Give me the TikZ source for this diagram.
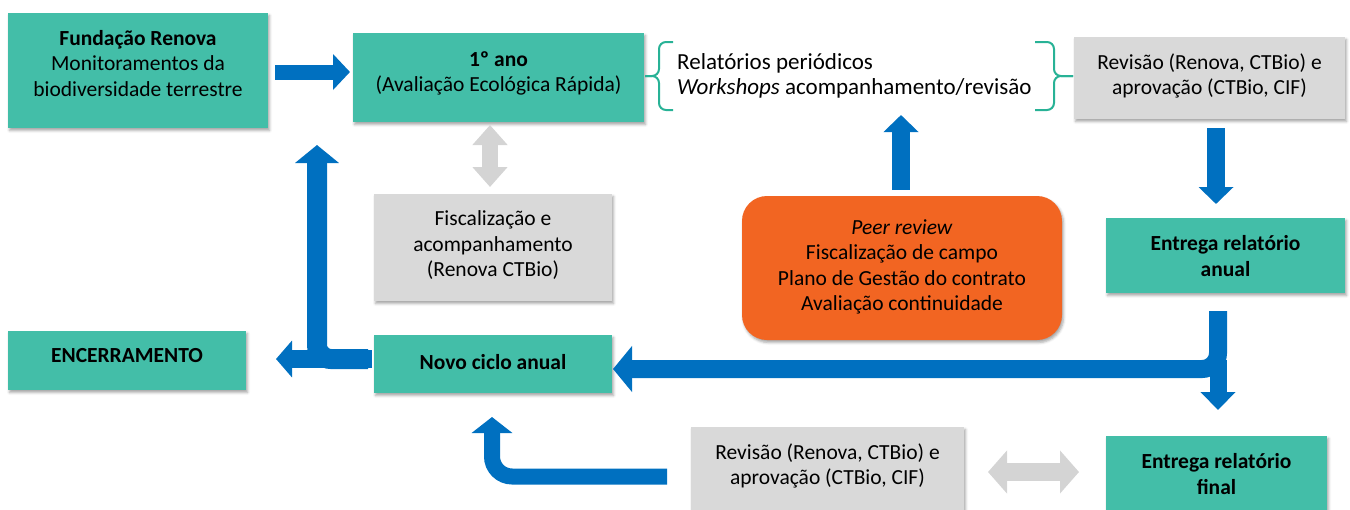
\documentclass[tikz,border=0pt]{standalone}
\usepackage{fontspec}
\setmainfont{Carlito}
\usetikzlibrary{arrows.meta,calc,shadows.blur}
\definecolor{tealc}{RGB}{67,190,168}
\definecolor{grayc}{RGB}{217,217,217}
\definecolor{orangec}{RGB}{242,101,34}
\definecolor{bluec}{RGB}{0,112,192}
\definecolor{bracec}{RGB}{40,178,150}
\definecolor{garrowc}{RGB}{212,212,212}
\begin{document}
\begin{tikzpicture}[x=1pt,y=-1pt,
  box/.style={rectangle, inner sep=0pt, outer sep=0pt,
    blur shadow={shadow xshift=1.5pt, shadow yshift=-2.5pt, shadow blur radius=2.5pt, shadow opacity=35}},
  tbox/.style={box, fill=tealc},
  gbox/.style={box, fill=grayc},
  txt/.style={align=center, inner sep=0pt, font=\fontsize{21.5}{25.5}\selectfont},
  barr/.style args={#1/#2/#3}{draw=bluec, line width=#1, -{Triangle[width=#2,length=#3]}},
  garr/.style args={#1/#2/#3}{draw=garrowc, line width=#1,
    {Triangle[width=#2,length=#3]}-{Triangle[width=#2,length=#3]}},
  brc/.style={draw=bracec, line width=2pt, rounded corners=7pt}
]
\useasboundingbox (0,0) rectangle (1350,509);

% boxes
\node[tbox, minimum width=260pt, minimum height=115pt] (fund) at (138,70.5) {};
\node[tbox, minimum width=291pt, minimum height=89pt] (ano) at (498.5,77.5) {};
\node[gbox, minimum width=271pt, minimum height=82pt] (rev1) at (1209.5,78) {};
\node[tbox, minimum width=239pt, minimum height=75pt] (anual) at (1225.5,255.5) {};
\node[box, fill=orangec, rounded corners=25pt, minimum width=320pt, minimum height=144pt] (peer) at (902,268) {};
\node[gbox, minimum width=238pt, minimum height=107pt] (fisc) at (493,247.5) {};
\node[tbox, minimum width=238pt, minimum height=58pt] (novo) at (493,364) {};
\node[tbox, minimum width=238pt, minimum height=59pt] (enc) at (127,360.5) {};
\node[gbox, minimum width=273pt, minimum height=84pt] (rev2) at (827.5,469) {};
\node[tbox, minimum width=221pt, minimum height=75pt] (final) at (1216.5,473.5) {};

% texts
\node[txt] (fundt) at ($(fund)+(0,-7)$) {\textbf{Fundação Renova}\\Monitoramentos da\\biodiversidade terrestre};
\node[txt] (anot) at ($(ano)+(0,-4)$) {\textbf{1º ano}\\(Avaliação Ecológica Rápida)};
\node[txt, align=left, anchor=west, font=\fontsize{23}{24.5}\selectfont] (relt) at (677,76) {Relatórios periódicos\\\textit{Workshops} acompanhamento/revisão};
\node[txt] (rev1t) at ($(rev1)+(0,-2)$) {Revisão (Renova, CTBio) e\\aprovação (CTBio, CIF)};
\node[txt] (anualt) at ($(anual)+(0,0.5)$) {\textbf{Entrega relatório}\\\textbf{anual}};
\node[txt] (fisct) at ($(fisc)+(0,-2)$) {Fiscalização e\\acompanhamento\\(Renova CTBio)};
\node[txt] (peert) at ($(peer)+(0,-1)$) {\textit{Peer review}\\Fiscalização de campo\\Plano de Gestão do contrato\\Avaliação continuidade};
\node[txt] (novot) at ($(novo)+(0,-2)$) {\textbf{Novo ciclo anual}};
\node[txt] (enct) at ($(enc)+(0,-4.5)$) {\textbf{ENCERRAMENTO}};
\node[txt] (rev2t) at ($(rev2)+(0,-3)$) {Revisão (Renova, CTBio) e\\aprovação (CTBio, CIF)};
\node[txt] (finalt) at ($(final)+(0,0.5)$) {\textbf{Entrega relatório}\\\textbf{final}};

% braces
\coordinate (b1) at ($(ano.east)+(1,-1.5)$);
\draw[brc] (673,42) -- (659,42) -- (659,76) -- (b1);
\draw[brc] (673,110) -- (659,110) -- (659,76) -- (b1);
\coordinate (b2) at ($(rev1.west)+(-1,-2)$);
\draw[brc] (1035,42) -- (1054,42) -- (1054,76) -- (b2);
\draw[brc] (1035,110) -- (1054,110) -- (1054,76) -- (b2);

% blue arrows
\draw[barr=15pt/35pt/17pt] ($(fund.east)+(7,1.5)$) -- ($(ano.west)+(-3,-5.5)$);
\draw[barr=18pt/34pt/17pt] ($(rev1.south)+(6.5,9)$) -- ($(anual.north)+(-9.5,-14)$);
\coordinate (up1) at ($(peer.north)+(-1,-81)$);
\draw[barr=18pt/34pt/17pt] ($(peer.north)+(-1,-6)$) -- (up1);
\draw[barr=18pt/36pt/16pt] ($(novo.west)+(-2,-5)$) -- ($(enc.east)+(30,-1.5)$);
\draw[barr=20pt/43pt/18pt, rounded corners=14pt] ($(novo.west)+(-6,-5)$) -| ($(fund.south)+(179,17)$);
\draw[barr=17pt/34pt/18pt] ($(anual.south)+(-7.5,67)$) -- ($(final.north)+(1.5,-26)$);
\draw[barr=18pt/45pt/19pt, rounded corners=16pt] ($(anual.south)+(-7.5,18)$) |- ($(novo.east)+(1,5)$);
\draw[barr=16pt/40pt/16pt, rounded corners=20pt] ($(rev2.west)+(-24,7.5)$) -| ($(novo.south)+(-1,24)$);

% gray double arrows
\draw[garr=16pt/34pt/20pt] ($(fisc.north)+(-3,-7)$) -- ($(ano.south)+(-8.5,3)$);
\draw[garr=18pt/42pt/19pt] ($(rev2.east)+(24,3)$) -- ($(final.west)+(-27,-1.5)$);
\end{tikzpicture}
\end{document}
